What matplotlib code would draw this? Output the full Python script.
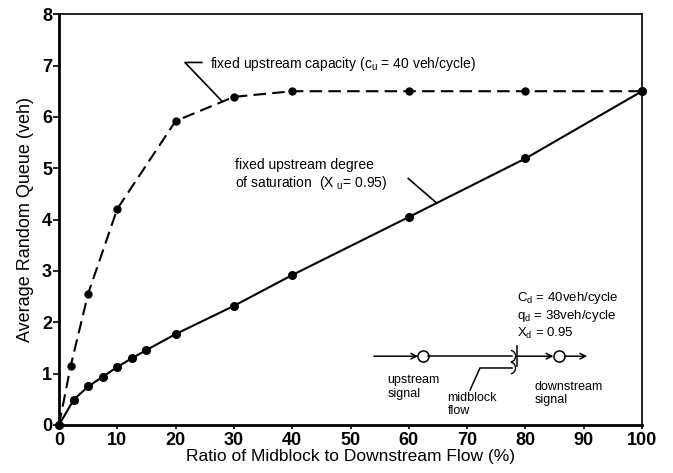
import numpy as np
import matplotlib.pyplot as plt
from matplotlib.patches import Arc

plt.rcParams['font.family'] = ['Liberation Sans', 'DejaVu Sans']

# fixed upstream capacity (dashed)
ratio_cap = [0, 2, 5, 10, 20, 30, 40, 60, 80, 100]
queue_cap = [0, 1.15, 2.56, 4.21, 5.92, 6.39, 6.50, 6.50, 6.50, 6.50]

# fixed upstream degree of saturation (solid)
ratio_sat = [0, 2.5, 5, 7.5, 10, 12.5, 15, 20, 30, 40, 60, 80, 100]
queue_sat = [0, 0.49, 0.75, 0.94, 1.13, 1.30, 1.46, 1.77, 2.32, 2.92, 4.05, 5.19, 6.50]

xticks = [0, 10, 20, 30, 40, 50, 60, 70, 80, 90, 100]
yticks = [0, 1, 2, 3, 4, 5, 6, 7, 8]

fig = plt.figure(figsize=(6.73, 4.73), dpi=100)
ax = fig.add_axes([0.0877, 0.1015, 0.8663, 0.8685])

ax.plot(ratio_cap, queue_cap, color='black', lw=1.5, ls=(0, (6, 3)),
        marker='o', ms=5, clip_on=False, zorder=3)
ax.plot(ratio_sat, queue_sat, color='black', lw=1.5,
        marker='o', ms=5.5, clip_on=False, zorder=3)

ax.set_xlim(0, 100)
ax.set_ylim(0, 8)
ax.set_xticks(xticks)
ax.set_yticks(yticks)
ax.tick_params(direction='out', length=4, width=1.2, labelsize=13, pad=1)
ax.tick_params(axis='x', length=3, pad=2)
for lab in ax.get_xticklabels() + ax.get_yticklabels():
    lab.set_fontweight('bold')
for s in ['left', 'bottom']:
    ax.spines[s].set_linewidth(2)
for s in ['top', 'right']:
    ax.spines[s].set_linewidth(1.2)

ax.set_xlabel('Ratio of Midblock to Downstream Flow (%)', fontsize=12.5, labelpad=0)
ax.set_ylabel('Average Random Queue (veh)', fontsize=13, labelpad=6)

# annotation: fixed capacity
ax.plot([24.5, 21.6, 28.0], [7.06, 7.06, 6.30], color='black', lw=1.2)
ax.text(25.9, 7.03, r'fixed upstream capacity (c$_{\mathregular{u}}$ = 40 veh/cycle)',
        fontsize=10, va='center', ha='left')

# annotation: fixed degree of saturation
ax.plot([59.9, 64.8], [4.80, 4.32], color='black', lw=1.2)
ax.text(30.2, 5.06, 'fixed upstream degree', fontsize=10, va='center', ha='left')
ax.text(30.2, 4.71, r'of saturation  (X $_{\mathregular{u}}$= 0.95)', fontsize=10,
        va='center', ha='left')

# downstream parameters
ax.text(78.6, 2.47, r'C$_{\mathregular{d}}$ = 40veh/cycle', fontsize=9.5, va='center')
ax.text(78.6, 2.12, r'q$_{\mathregular{d}}$ = 38veh/cycle', fontsize=9.5, va='center')
ax.text(78.6, 1.79, r'X$_{\mathregular{d}}$ = 0.95', fontsize=9.5, va='center')

# schematic
yl = 1.34
arw = dict(arrowstyle='->', color='black', lw=1.1, shrinkA=0, shrinkB=0)
ax.annotate('', xy=(61.6, yl), xytext=(54.0, yl), arrowprops=arw)
ax.plot([62.4], [yl], marker='o', ms=8, mfc='white', mec='black', mew=1.1)
ax.plot([63.3, 77.7], [yl, yl], color='black', lw=1.1)
ax.plot([78.6, 78.6], [yl + 0.2, yl - 0.2], color='black', lw=1.1)
ax.annotate('', xy=(84.8, yl), xytext=(78.6, yl), arrowprops=arw)
ax.plot([85.8], [yl], marker='o', ms=8, mfc='white', mec='black', mew=1.1)
ax.annotate('', xy=(90.6, yl), xytext=(86.7, yl), arrowprops=arw)
ax.plot([70.5, 72.2, 77.7], [0.68, 1.11, 1.11], color='black', lw=1.1)
for yy in [yl, 1.11]:
    ax.add_patch(Arc((77.5, yy), 1.6, 0.22, theta1=-90, theta2=90, color='black', lw=1.0))

ax.text(56.3, 0.99, 'upstream\nsignal', fontsize=9, va='top', ha='left', linespacing=1.15)
ax.text(66.6, 0.64, 'midblock\nflow', fontsize=9, va='top', ha='left', linespacing=1.15)
ax.text(81.6, 0.86, 'downstream\nsignal', fontsize=9, va='top', ha='left', linespacing=1.15)

plt.savefig('out.png', dpi=100)
